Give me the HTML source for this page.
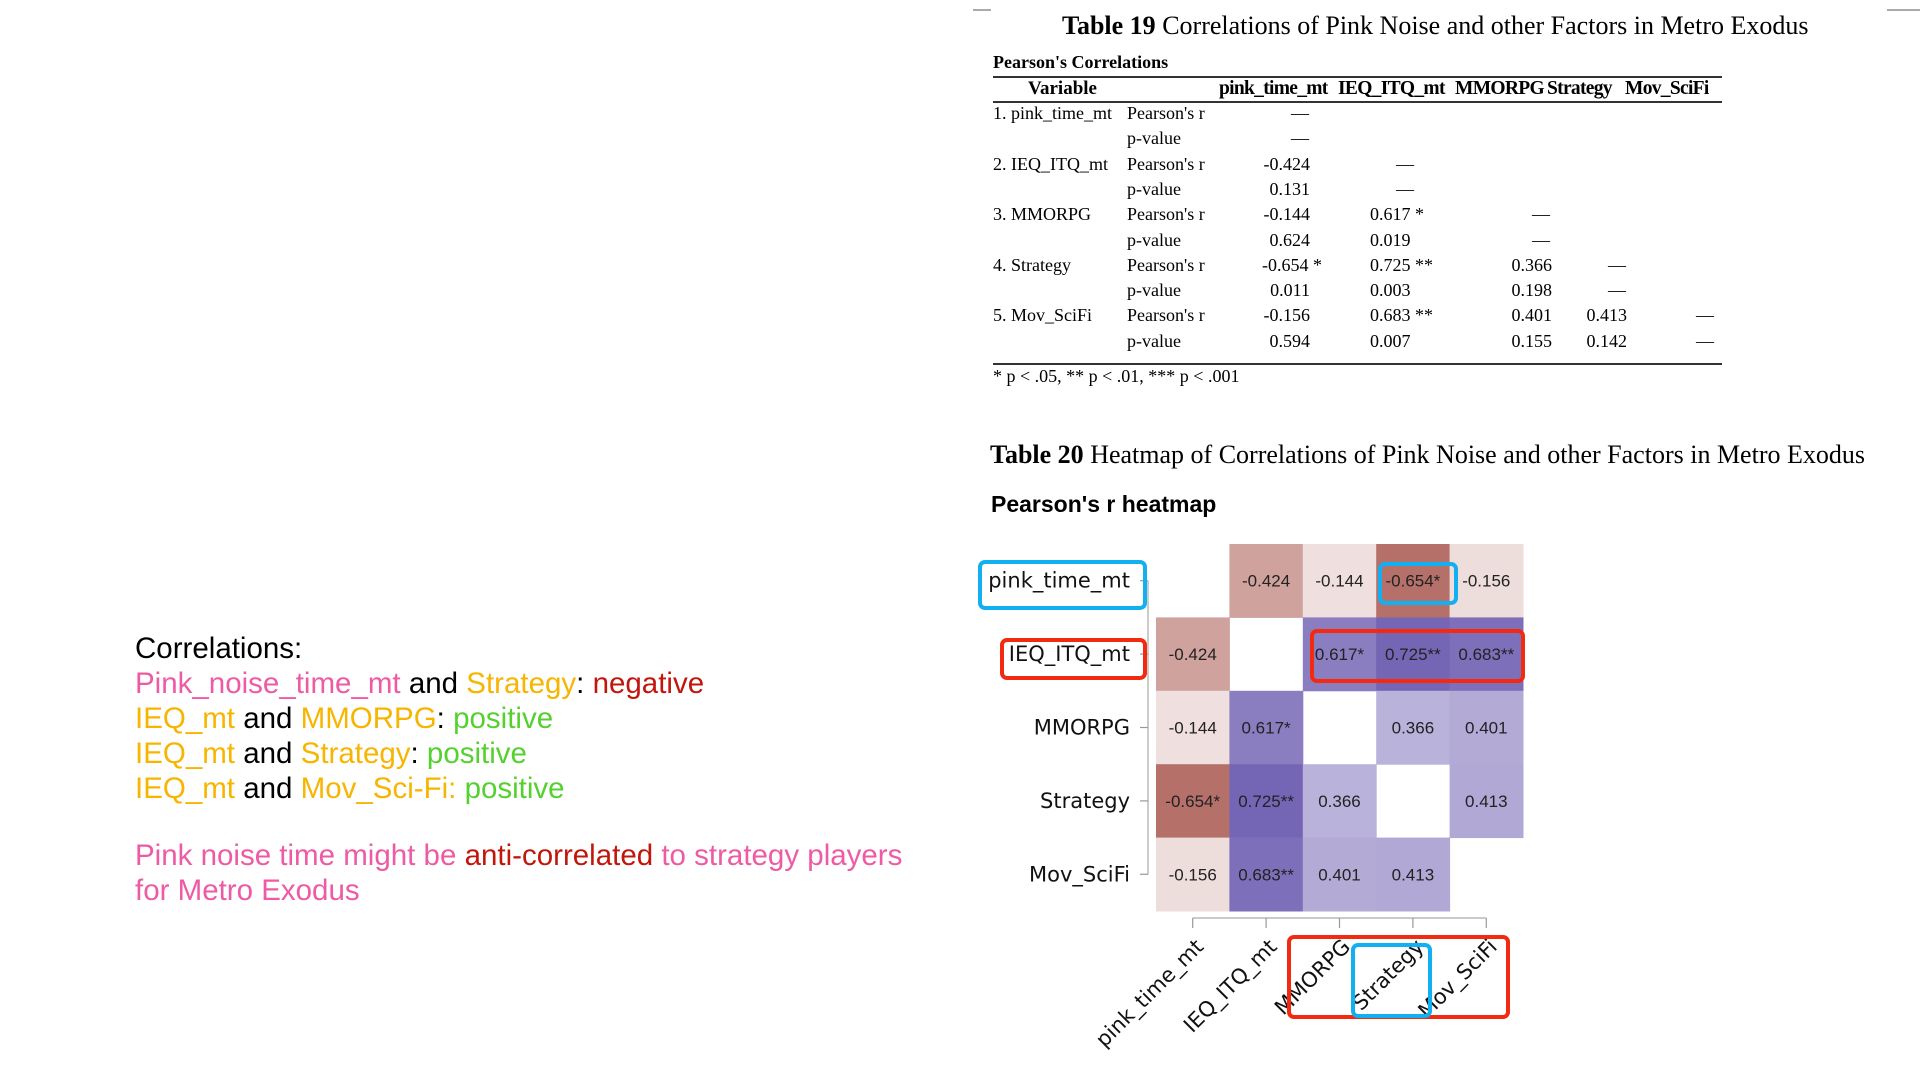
<!DOCTYPE html>
<html><head><meta charset="utf-8">
<style>
html,body{margin:0;padding:0;background:#fff;}
body{width:1920px;height:1080px;position:relative;overflow:hidden;font-family:"Liberation Sans",sans-serif;}
.a{position:absolute;white-space:nowrap;}
.serif{font-family:"Liberation Serif",serif;}
.note{font-size:29.5px;line-height:35px;}
.pk{color:#ee5aa3}.og{color:#f7b500}.rd{color:#c2160c}.gr{color:#55d12f}.bk{color:#000}
.rule{position:absolute;left:993px;width:729px;background:#333;}
.box{position:absolute;border-radius:7px;box-sizing:border-box;}
</style></head>
<body>
<div class="a" style="left:973px;top:9px;width:18px;height:2px;background:#aaa"></div>
<div class="a" style="left:1887px;top:9px;width:33px;height:2px;background:#aaa"></div>

<div class="a note" style="left:135px;top:631px;">
<div class="bk">Correlations:</div>
<div><span class="pk">Pink_noise_time_mt</span> <span class="bk">and</span> <span class="og">Strategy</span><span class="bk">:</span> <span class="rd">negative</span></div>
<div><span class="og">IEQ_mt</span> <span class="bk">and</span> <span class="og">MMORPG</span><span class="bk">:</span> <span class="gr">positive</span></div>
<div><span class="og">IEQ_mt</span> <span class="bk">and</span> <span class="og">Strategy</span><span class="bk">:</span> <span class="gr">positive</span></div>
<div><span class="og">IEQ_mt</span> <span class="bk">and</span> <span class="og">Mov_Sci-Fi:</span> <span class="gr">positive</span></div>
<div style="height:32px"></div>
<div class="pk">Pink noise time might be <span class="rd">anti-correlated</span> to strategy players</div>
<div class="pk">for Metro Exodus</div>
</div>

<div class="a serif" style="left:1062px;top:11px;font-size:26px;"><b>Table 19</b> Correlations of Pink Noise and other Factors in Metro Exodus</div>
<div class="a serif" style="left:993px;top:52px;font-size:18px;font-weight:bold;">Pearson's Correlations</div>
<div class="rule" style="top:76px;height:2px"></div>
<div class="rule" style="top:101px;height:2px"></div>
<div class="rule" style="top:363px;height:2px"></div>
<div id="tbl"></div>
<div class="a serif" style="left:993px;top:366px;font-size:18px;">* p &lt; .05, ** p &lt; .01, *** p &lt; .001</div>

<div class="a serif" style="left:990px;top:440px;font-size:26px;"><b>Table 20</b> Heatmap of Correlations of Pink Noise and other Factors in Metro Exodus</div>
<div class="a" style="left:991px;top:491px;font-size:23px;font-weight:bold;">Pearson's r heatmap</div>

<svg id="hm" width="1920" height="1080" style="position:absolute;left:0;top:0"></svg>

<div class="box" style="left:978px;top:560px;width:169px;height:50px;border:4px solid #12b0f0"></div>
<div class="box" style="left:1000px;top:638px;width:147px;height:42px;border:4px solid #f22a10"></div>
<div class="box" style="left:1378px;top:562px;width:80px;height:43px;border:4px solid #12b0f0"></div>
<div class="box" style="left:1310px;top:629px;width:215px;height:54px;border:4px solid #f22a10"></div>
<div class="box" style="left:1287px;top:935px;width:223px;height:84px;border:4px solid #f22a10"></div>
<div class="box" style="left:1351px;top:943px;width:81px;height:75px;border:4px solid #12b0f0"></div>

<script>
const vars = ["pink_time_mt","IEQ_ITQ_mt","MMORPG","Strategy","Mov_SciFi"];
const rVals = [
 [null,-0.424,-0.144,-0.654,-0.156],
 [-0.424,null,0.617,0.725,0.683],
 [-0.144,0.617,null,0.366,0.401],
 [-0.654,0.725,0.366,null,0.413],
 [-0.156,0.683,0.401,0.413,null]
];
const pVals = [
 [null,0.131,0.624,0.011,0.594],
 [0.131,null,0.019,0.003,0.007],
 [0.624,0.019,null,0.198,0.155],
 [0.011,0.003,0.198,null,0.142],
 [0.594,0.007,0.155,0.142,null]
];
function stars(p){return p<0.001?"***":p<0.01?"**":p<0.05?"*":"";}

// ---- Table 19 ----
const tbl=document.getElementById('tbl');
function addText(txt,x,y,opts){
  const d=document.createElement('div');
  d.className='a serif';
  d.textContent=txt;
  d.style.fontSize='18px';
  d.style.top=(y-17)+'px';
  if(opts&&opts.bold)d.style.fontWeight='bold';
  if(opts&&opts.right){d.style.right=(1920-x)+'px';}
  else if(opts&&opts.center){d.style.left=(x-40)+'px';d.style.width='80px';d.style.textAlign='center';}
  else d.style.left=x+'px';
  tbl.appendChild(d);
  return d;
}
const hdrX=[1219,1338,1455,1547,1625];
let h=addText("Variable",1028,95,{bold:true});
h.style.fontSize='19px';


vars.forEach((v,i)=>{
  const e=addText(v,hdrX[i],95,{bold:true});
  e.style.fontSize='19.5px';
  e.style.letterSpacing='-0.7px';
  
  
});
const valRight=[1310,1378,1552,1627,1705];
const dashC=[1300,1405,1541,1617,1705];
const rowY0=120, rowH=25.3;
vars.forEach((v,i)=>{
  const yr=rowY0+rowH*(2*i), yp=rowY0+rowH*(2*i+1);
  const l=addText((i+1)+". "+v,993,yr);
  
  
  const a=addText("Pearson's r",1127,yr);
  
  
  const b=addText("p-value",1127,yp);
  
  
  for(let j=0;j<=i;j++){
    let e1,e2;
    if(j===i){
      e1=addText("—",dashC[j],yr,{center:true});
      e2=addText("—",dashC[j],yp,{center:true});
    } else if(j===1){
      const s=stars(pVals[i][j]);
      e1=addText(rVals[i][j].toFixed(3)+(s?" "+s:""),1370,yr);
      e2=addText(pVals[i][j].toFixed(3),1370,yp);
    } else {
      const s=stars(pVals[i][j]);
      e1=addText(rVals[i][j].toFixed(3)+(s?" "+s:""),valRight[j]+(s?s.length*8+4:0),yr,{right:true});
      e2=addText(pVals[i][j].toFixed(3),valRight[j],yp,{right:true});
    }
    
    
    
    
  }
});

// ---- Heatmap ----
const NS="http://www.w3.org/2000/svg";
const svg=document.getElementById('hm');
const x0=1156, y0=544, cell=73.4;
const xPos=j=>x0+j*cell;
const yPos=i=>y0+i*cell;
function color(r){
  const t=Math.abs(r);
  const c=r<0?[142,36,27]:[65,44,153];
  return 'rgb('+c.map(v=>Math.round(255-t*(255-v))).join(',')+')';
}
function el(tag,attrs){const e=document.createElementNS(NS,tag);for(const k in attrs)e.setAttribute(k,attrs[k]);svg.appendChild(e);return e;}
for(let i=0;i<vars.length;i++){
  for(let j=0;j<vars.length;j++){
    const r=rVals[i][j];
    if(r===null)continue;
    const rect=el('rect',{x:xPos(j),y:yPos(i),width:cell+0.5,height:cell+0.5,fill:color(r)});
    
    
    const s=stars(pVals[i][j]);
    const t=el('text',{x:xPos(j)+cell/2,y:yPos(i)+cell/2+6,'text-anchor':'middle','font-size':'17','font-family':'Liberation Sans, sans-serif',fill:'#222'});
    t.textContent=r.toFixed(3)+s;
    
    
  }
}
// y axis
const ya=el('line',{x1:1148,y1:yPos(0)+cell/2,x2:1148,y2:yPos(4)+cell/2,stroke:'#aaa','stroke-width':1.2});


vars.forEach((v,i)=>{
  const cy=yPos(i)+cell/2;
  const tk=el('line',{x1:1140,y1:cy,x2:1148,y2:cy,stroke:'#999','stroke-width':1.2});
  
  
  const t=el('text',{x:1130,y:cy+7,'text-anchor':'end','font-size':'21','font-family':'DejaVu Sans, sans-serif',fill:'#111'});
  t.textContent=v;
  
  
});
// x axis
const xa=el('line',{x1:xPos(0)+cell/2,y1:918,x2:xPos(4)+cell/2,y2:918,stroke:'#aaa','stroke-width':1.2});


vars.forEach((v,j)=>{
  const cx=xPos(j)+cell/2;
  const tk=el('line',{x1:cx,y1:918,x2:cx,y2:928,stroke:'#999','stroke-width':1.2});
  
  
  const ax=cx+12, ay=948;
  const t=el('text',{x:ax,y:ay,'text-anchor':'end','font-size':'21','font-family':'DejaVu Sans, sans-serif',fill:'#111',transform:'rotate(-45 '+ax+' '+ay+')'});
  t.textContent=v;
  
  
});
</script>
</body></html>
